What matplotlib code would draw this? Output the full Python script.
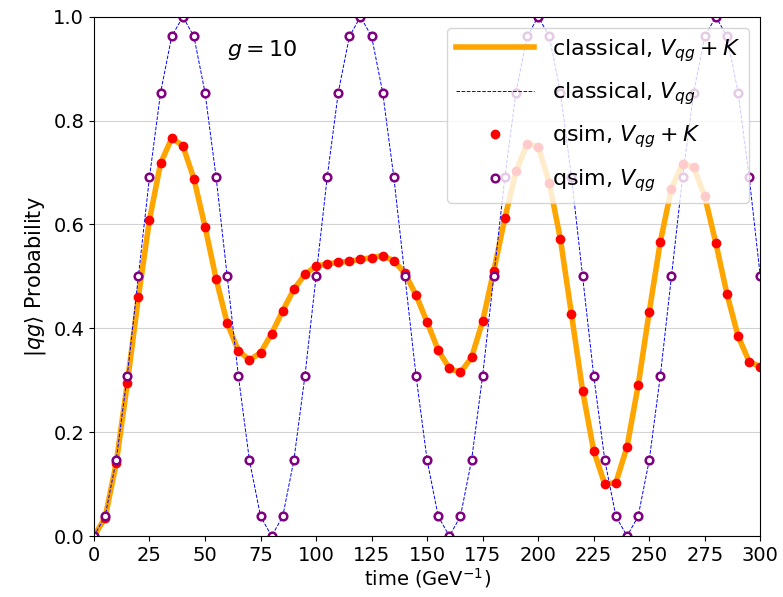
import matplotlib
matplotlib.use("Agg")
import matplotlib.pyplot as plt

# time grid (GeV^-1)
time = [0, 5, 10, 15, 20, 25, 30, 35, 40, 45, 50, 55, 60, 65, 70, 75, 80, 85, 90, 95,
        100, 105, 110, 115, 120, 125, 130, 135, 140, 145, 150, 155, 160, 165, 170, 175,
        180, 185, 190, 195, 200, 205, 210, 215, 220, 225, 230, 235, 240, 245, 250, 255,
        260, 265, 270, 275, 280, 285, 290, 295, 300]

# |qg> probability with V_qg + K
prob_vk = [0.0, 0.035, 0.14, 0.294, 0.46, 0.609, 0.718, 0.766, 0.752, 0.688,
           0.596, 0.495, 0.41, 0.357, 0.339, 0.353, 0.39, 0.434, 0.475, 0.504,
           0.52, 0.524, 0.527, 0.529, 0.533, 0.536, 0.54, 0.53, 0.506, 0.464,
           0.412, 0.358, 0.323, 0.315, 0.344, 0.414, 0.511, 0.612, 0.702, 0.755,
           0.75, 0.68, 0.572, 0.427, 0.28, 0.164, 0.10, 0.103, 0.172, 0.29,
           0.432, 0.567, 0.669, 0.717, 0.71, 0.654, 0.564, 0.466, 0.385, 0.336,
           0.326]

# |qg> probability with V_qg only
prob_v = [0.0, 0.038, 0.146, 0.309, 0.5, 0.691, 0.854, 0.962, 1.0, 0.962,
          0.854, 0.691, 0.5, 0.309, 0.146, 0.038, 0.0, 0.038, 0.146, 0.309,
          0.5, 0.691, 0.854, 0.962, 1.0, 0.962, 0.854, 0.691, 0.5, 0.309,
          0.146, 0.038, 0.0, 0.038, 0.146, 0.309, 0.5, 0.691, 0.854, 0.962,
          1.0, 0.962, 0.854, 0.691, 0.5, 0.309, 0.146, 0.038, 0.0, 0.038,
          0.146, 0.309, 0.5, 0.691, 0.854, 0.962, 1.0, 0.962, 0.854, 0.691,
          0.5]


def main():
    fig, ax = plt.subplots(figsize=(7.83, 5.97), dpi=100)
    fig.subplots_adjust(left=0.120, right=0.971, bottom=0.102, top=0.972)

    ax.plot(time, prob_vk, color='orange', lw=4, label=r'classical, $V_{qg}+K$')
    ax.plot(time, prob_v, color='blue', lw=0.7, ls='--', label=r'classical, $V_{qg}$')
    ax.plot(time, prob_vk, 'o', color='red', ms=6, ls='none', label=r'qsim, $V_{qg}+K$')
    ax.plot(time, prob_v, 'o', mfc='white', mec='purple', mew=1.8, ms=5.5, ls='none',
            label=r'qsim, $V_{qg}$')

    ax.set_xlim(0, 300)
    ax.set_ylim(0, 1)
    ax.set_xticks(range(0, 301, 25))
    ax.grid(True, axis='y', color='lightgray')
    ax.tick_params(labelsize=14)

    ax.set_xlabel(r'time (GeV$^{-1}$)', fontsize=14, labelpad=1)
    ax.set_ylabel(r'$|qg\rangle$ Probability', fontsize=15)
    ax.text(60, 0.925, r'$g=10$', fontsize=16)

    ax.legend(loc='upper right', fontsize=16, handlelength=3.5, labelspacing=0.75,
              framealpha=0.8)

    fig.savefig('out.png')


if __name__ == '__main__':
    main()
